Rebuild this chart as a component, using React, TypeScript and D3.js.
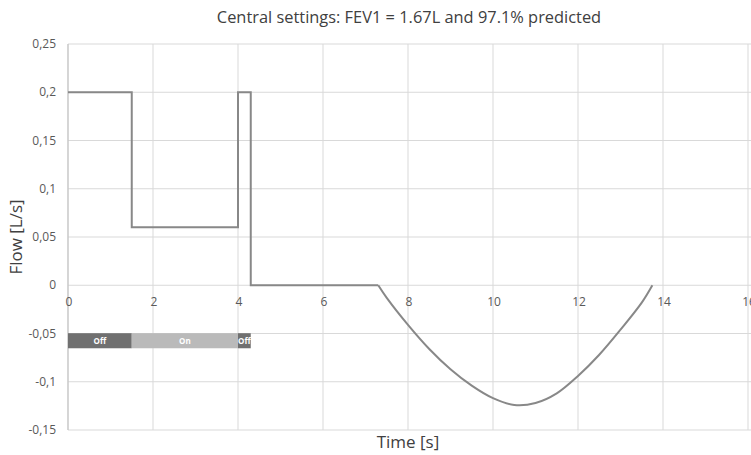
import React from "react";
import * as d3 from "d3";

const title = "Central settings: FEV1 = 1.67L and 97.1% predicted";
const xTicks = [0, 2, 4, 6, 8, 10, 12, 14, 16];
const yTicks = [0.25, 0.2, 0.15, 0.1, 0.05, 0, -0.05, -0.1, -0.15];
const yTickLabels = ["0,25", "0,2", "0,15", "0,1", "0,05", "0", "-0,05", "-0,1", "-0,15"];

// step part of the flow trace
const stepTime = [0, 1.5, 1.5, 4.0, 4.0, 4.3, 4.3, 7.3];
const stepFlow = [0.2, 0.2, 0.06, 0.06, 0.2, 0.2, 0, 0];

// smooth exhalation part
const curveTime = [7.3, 7.5, 8, 8.5, 9, 9.5, 10, 10.5, 11, 11.5, 12, 12.5, 13, 13.5, 13.75];
const curveFlow = [0, -0.013, -0.041, -0.066, -0.087, -0.104, -0.117, -0.124, -0.122, -0.112, -0.094, -0.072, -0.046, -0.018, 0];

// valve state bar
const gateLabels = ["Off", "On", "Off"];
const gateStart = [0, 1.5, 4.0];
const gateEnd = [1.5, 4.0, 4.3];
const gateColors = ["#707070", "#bababa", "#707070"];
const gateTop = -0.0497;
const gateBottom = -0.0653;

export default function App() {
  const W = 751, H = 455;
  const x = d3.scaleLinear().domain([0, 16]).range([68, 748]);
  const y = d3.scaleLinear().domain([-0.15, 0.25]).range([430, 44]);

  const stepPts: [number, number][] = stepTime.map((t, i) => [t, stepFlow[i]]);
  const curvePts: [number, number][] = curveTime.map((t, i) => [t, curveFlow[i]]);
  const lineStep = d3.line<[number, number]>().x(d => x(d[0])).y(d => y(d[1]));
  const lineCurve = d3.line<[number, number]>().x(d => x(d[0])).y(d => y(d[1])).curve(d3.curveCatmullRom);

  const font = "'Open Sans', 'DejaVu Sans', sans-serif";
  const gridColor = "#d9d9d9";
  const textColor = "#595959";

  return (
    <svg width={W} height={H} style={{ position: "absolute", left: 0, top: 0, background: "#fff" }} fontFamily={font}>
      {/* grid */}
      {yTicks.map((v, i) => (
        <line key={"gy" + i} x1={x(0)} x2={W} y1={y(v)} y2={y(v)} stroke={gridColor} strokeWidth={1} />
      ))}
      {xTicks.map((v, i) => (
        <line key={"gx" + i} x1={x(v)} x2={x(v)} y1={y(0.25)} y2={y(-0.15)} stroke={gridColor} strokeWidth={1} />
      ))}
      <line x1={x(0)} x2={x(0)} y1={y(0.25)} y2={y(-0.15)} stroke="#bfbfbf" strokeWidth={1} />

      {/* y tick labels */}
      {yTicks.map((v, i) => (
        <text key={"yl" + i} x={56} y={y(v)} dy="0.35em" textAnchor="end" fontSize={12} fill={textColor}>
          {yTickLabels[i]}
        </text>
      ))}
      {/* x tick labels */}
      {xTicks.map((v, i) => (
        <text key={"xl" + i} x={x(v) + 1} y={y(0) + 21} textAnchor="middle" fontSize={12} fill={textColor}>
          {v}
        </text>
      ))}

      {/* gate bar */}
      {gateLabels.map((lab, i) => (
        <g key={"g" + i}>
          <rect x={x(gateStart[i])} y={y(gateTop)} width={x(gateEnd[i]) - x(gateStart[i])} height={y(gateBottom) - y(gateTop)} fill={gateColors[i]} />
          <text x={(x(gateStart[i]) + x(gateEnd[i])) / 2} y={(y(gateTop) + y(gateBottom)) / 2} dy="0.35em" textAnchor="middle" fontSize={8} fontWeight="bold" fill="#fff">
            {lab}
          </text>
        </g>
      ))}

      {/* flow trace */}
      <path d={lineStep(stepPts) || ""} fill="none" stroke="#888888" strokeWidth={2} />
      <path d={lineCurve(curvePts) || ""} fill="none" stroke="#888888" strokeWidth={2} />

      {/* titles */}
      <text x={409} y={23} textAnchor="middle" fontSize={16.4} fill="#404040">{title}</text>
      <text x={408} y={448} textAnchor="middle" fontSize={17} fill="#404040">Time [s]</text>
      <text transform={`translate(22,${y(0.05)}) rotate(-90)`} textAnchor="middle" fontSize={17} fill="#404040">Flow [L/s]</text>
    </svg>
  );
}
